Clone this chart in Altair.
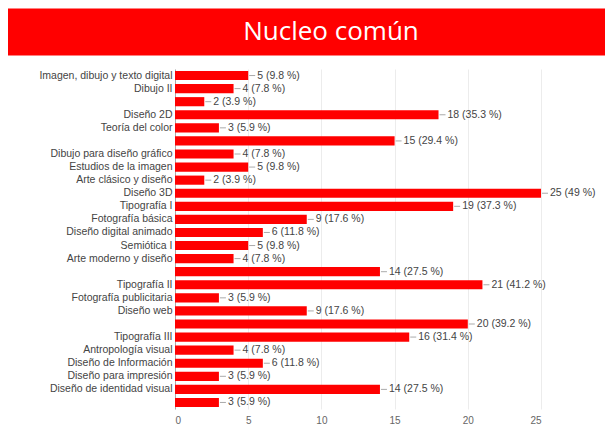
import altair as alt
import pandas as pd
import json

title_text = "Nucleo común"
courses = [
    "Imagen, dibujo y texto digital", "Dibujo II", "", "Diseño 2D", "Teoría del color", "",
    "Dibujo para diseño gráfico", "Estudios de la imagen", "Arte clásico y diseño", "Diseño 3D",
    "Tipografía I", "Fotografía básica", "Diseño digital animado", "Semiótica I",
    "Arte moderno y diseño", "", "Tipografía II", "Fotografía publicitaria", "Diseño web", "",
    "Tipografía III", "Antropología visual", "Diseño de Información", "Diseño para impresión",
    "Diseño de identidad visual", "",
]
counts = [5, 4, 2, 18, 3, 15, 4, 5, 2, 25, 19, 9, 6, 5, 4, 14, 21, 3, 9, 20, 16, 4, 6, 3, 14, 3]
percents = ["9.8", "7.8", "3.9", "35.3", "5.9", "29.4", "7.8", "9.8", "3.9", "49", "37.3", "17.6",
            "11.8", "9.8", "7.8", "27.5", "41.2", "5.9", "17.6", "39.2", "31.4", "7.8", "11.8",
            "5.9", "27.5", "5.9"]
x_ticks = [0, 2.5, 5, 7.5, 10, 12.5, 15, 17.5, 20, 22.5, 25]

df = pd.DataFrame({
    "idx": list(range(len(courses))),
    "count": counts,
    "label": [f"{c} ({p} %)" for c, p in zip(counts, percents)],
})

W, H = 366, 340
label_expr = json.dumps(courses, ensure_ascii=False) + "[datum.value]"

y_enc = alt.Y(
    "idx:O",
    title=None,
    scale=alt.Scale(paddingInner=0.3, paddingOuter=0.15),
    axis=alt.Axis(labelExpr=label_expr, ticks=False, domain=True, domainColor="#aaaaaa",
                  labelFontSize=10.5, labelColor="#444444", labelFont="Liberation Sans",
                  labelPadding=3, grid=False),
)
x_enc = alt.X(
    "count:Q",
    title=None,
    scale=alt.Scale(domain=[0, 25], nice=False),
    axis=alt.Axis(values=x_ticks, labelExpr="datum.value % 5 == 0 ? datum.label : ''",
                  grid=True, gridColor="#ececec", ticks=False, domain=False,
                  labelFontSize=10, labelColor="#666666", labelFont="Liberation Sans",
                  labelPadding=6),
)

bars = alt.Chart(df).mark_bar(color="#ff0000").encode(x=x_enc, y=y_enc)
connectors = alt.Chart(df).mark_rule(color="#aaaaaa", strokeWidth=1, xOffset=1, x2Offset=7).encode(
    x=alt.X("count:Q"), x2=alt.X2("count"), y=y_enc)
values = alt.Chart(df).mark_text(align="left", baseline="middle", dx=9, fontSize=10.5,
                                 font="Liberation Sans", color="#444444").encode(
    x=alt.X("count:Q"), y=y_enc, text="label:N")

header_data = alt.Data(values=[{"t": title_text}])
header = alt.Chart(header_data).mark_rect(color="#ff0000").encode(
    x=alt.value(-167), x2=alt.value(430), y=alt.value(-60.5), y2=alt.value(-13.5))
header_text = alt.Chart(header_data).mark_text(
    font="Open Sans", fontSize=26, color="white", align="center", baseline="alphabetic").encode(
    x=alt.value(156), y=alt.value(-29.5), text="t:N")

chart = alt.layer(header, header_text, bars, connectors, values).properties(
    width=W, height=H, background="white", padding=0
).configure_view(stroke=None)

chart.save("out.html", embed_options={"renderer": "svg", "actions": False})
